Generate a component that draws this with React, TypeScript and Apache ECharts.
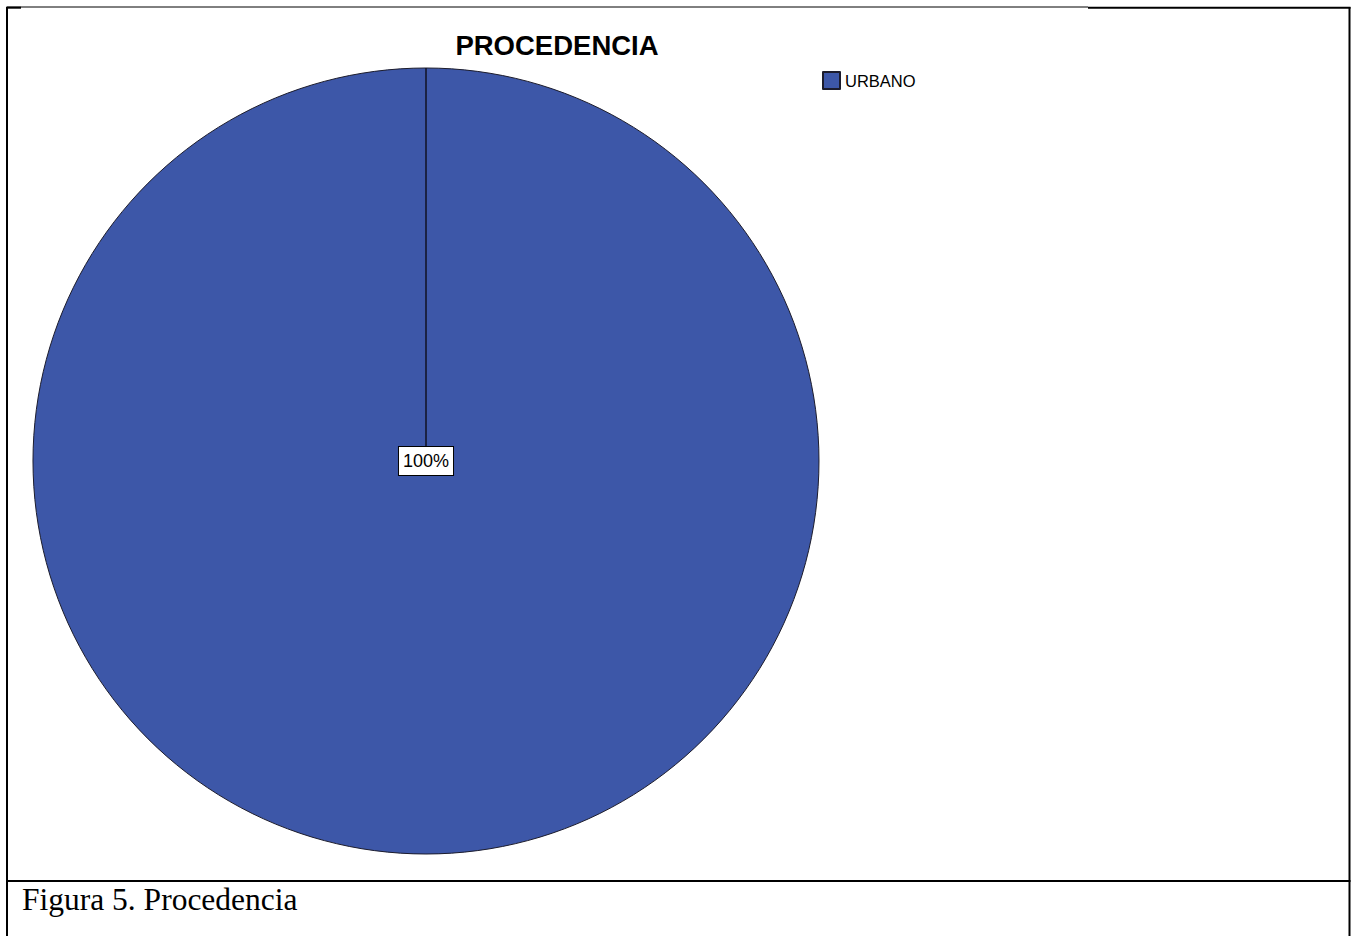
import React, { useEffect, useRef } from "react";
import * as echarts from "echarts";

const categories = ["URBANO"];
const counts = [100];
const chartTitle = "PROCEDENCIA";
const caption = "Figura 5. Procedencia";

const W = 1352;
const H = 936;
const CX = 426;
const CY = 461;
const R = 393;

export default function App() {
  const ref = useRef<HTMLDivElement>(null);
  useEffect(() => {
    if (!ref.current) return;
    const chart = echarts.init(ref.current, null, { renderer: "svg" });
    chart.setOption({
      animation: false,
      backgroundColor: "#ffffff",
      title: {
        text: chartTitle,
        left: 552,
        top: 26,
        textAlign: "center",
        textStyle: {
          fontFamily: "Liberation Sans, Arial, sans-serif",
          fontSize: 27.5,
          fontWeight: "bold",
          color: "#000",
        },
      },
      legend: {
        left: 817,
        top: 66,
        orient: "vertical",
        itemWidth: 17,
        itemHeight: 17,
        itemGap: 5,
        icon: "rect",
        data: categories,
        textStyle: {
          fontFamily: "Liberation Sans, Arial, sans-serif",
          fontSize: 16.5,
          color: "#000",
          padding: [0, 0, 0, 0],
        },
      },
      series: [
        {
          type: "pie",
          center: [CX, CY],
          radius: R,
          startAngle: 90,
          silent: true,
          itemStyle: {
            color: "#3D57A8",
            borderColor: "#1c1c2c",
            borderWidth: 1,
          },
          label: {
            show: true,
            position: "center",
            formatter: "{d}%",
            fontFamily: "Liberation Sans, Arial, sans-serif",
            fontSize: 18,
            color: "#000",
            backgroundColor: "#fff",
            borderColor: "#000",
            borderWidth: 1,
            padding: [5, 4, 5, 4],
          },
          labelLine: { show: false },
          data: categories.map((c, i) => ({ name: c, value: counts[i] })),
        },
      ],
      graphic: [
        {
          type: "line",
          z: 10,
          shape: { x1: CX, y1: CY - R, x2: CX, y2: CY - 15 },
          style: { stroke: "#111122", lineWidth: 1.5 },
        },
        {
          type: "line",
          z: 20,
          shape: { x1: 7, y1: 7, x2: 1088, y2: 7 },
          style: { stroke: "#000", lineWidth: 1 },
        },
        {
          type: "line",
          z: 20,
          shape: { x1: 6, y1: 7.7, x2: 21, y2: 7.7 },
          style: { stroke: "#000", lineWidth: 2 },
        },
        {
          type: "line",
          z: 20,
          shape: { x1: 1088, y1: 7.7, x2: 1350.5, y2: 7.7 },
          style: { stroke: "#000", lineWidth: 2 },
        },
        {
          type: "line",
          z: 20,
          shape: { x1: 7, y1: 7, x2: 7, y2: H },
          style: { stroke: "#000", lineWidth: 2 },
        },
        {
          type: "line",
          z: 20,
          shape: { x1: 1349.5, y1: 7, x2: 1349.5, y2: H },
          style: { stroke: "#000", lineWidth: 2 },
        },
        {
          type: "line",
          z: 20,
          shape: { x1: 7, y1: 881, x2: 1350.5, y2: 881 },
          style: { stroke: "#000", lineWidth: 2 },
        },
        {
          type: "text",
          z: 20,
          x: 22,
          y: 899.5,
          style: {
            text: caption,
            fontFamily: "Liberation Serif, Times New Roman, serif",
            fontSize: 31.5,
            fill: "#000",
            verticalAlign: "middle",
            align: "left",
          },
        },
      ],
    });
    return () => chart.dispose();
  }, []);
  return (
    <div
      ref={ref}
      style={{ position: "absolute", left: 0, top: 0, width: W, height: H }}
    />
  );
}
